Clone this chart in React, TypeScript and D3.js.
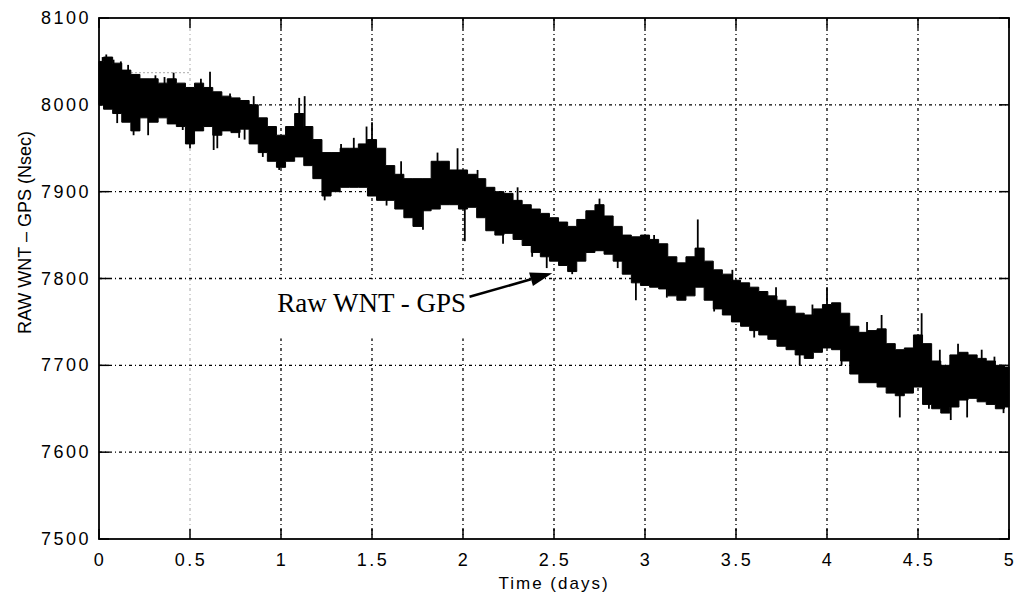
import React from 'react'
import * as d3 from 'd3'

// time in days, sampled every 0.05 day
const times = [
  0, 0.05, 0.1, 0.15, 0.2, 0.25, 0.3, 0.35, 0.4, 0.45,
  0.5, 0.55, 0.6, 0.65, 0.7, 0.75, 0.8, 0.85, 0.9, 0.95,
  1, 1.05, 1.1, 1.15, 1.2, 1.25, 1.3, 1.35, 1.4, 1.45,
  1.5, 1.55, 1.6, 1.65, 1.7, 1.75, 1.8, 1.85, 1.9, 1.95,
  2, 2.05, 2.1, 2.15, 2.2, 2.25, 2.3, 2.35, 2.4, 2.45,
  2.5, 2.55, 2.6, 2.65, 2.7, 2.75, 2.8, 2.85, 2.9, 2.95,
  3, 3.05, 3.1, 3.15, 3.2, 3.25, 3.3, 3.35, 3.4, 3.45,
  3.5, 3.55, 3.6, 3.65, 3.7, 3.75, 3.8, 3.85, 3.9, 3.95,
  4, 4.05, 4.1, 4.15, 4.2, 4.25, 4.3, 4.35, 4.4, 4.45,
  4.5, 4.55, 4.6, 4.65, 4.7, 4.75, 4.8, 4.85, 4.9, 4.95, 5,
]

// upper edge of the noisy trace (Nsec)
const highs = [
  8050, 8055, 8048, 8040, 8035, 8030, 8030, 8025, 8030, 8025,
  8020, 8025, 8020, 8015, 8010, 8008, 8005, 8000, 7985, 7975,
  7965, 7975, 7990, 7975, 7960, 7945, 7945, 7950, 7950, 7955,
  7960, 7950, 7930, 7920, 7915, 7915, 7915, 7935, 7935, 7925,
  7925, 7920, 7915, 7905, 7900, 7898, 7890, 7885, 7880, 7875,
  7870, 7865, 7860, 7868, 7878, 7885, 7872, 7860, 7850, 7848,
  7850, 7845, 7840, 7825, 7818, 7825, 7835, 7820, 7810, 7805,
  7798, 7795, 7790, 7785, 7780, 7775, 7768, 7760, 7758, 7765,
  7770, 7772, 7760, 7745, 7738, 7740, 7742, 7725, 7718, 7720,
  7735, 7725, 7705, 7700, 7712, 7715, 7712, 7708, 7705, 7700, 7698,
]

// lower edge of the noisy trace (Nsec)
const lows = [
  8000, 7995, 7990, 7980, 7970, 7985, 7980, 7985, 7978, 7975,
  7955, 7970, 7975, 7965, 7970, 7968, 7972, 7955, 7945, 7935,
  7928, 7935, 7940, 7930, 7915, 7895, 7900, 7905, 7905, 7905,
  7895, 7890, 7890, 7880, 7870, 7860, 7878, 7880, 7885, 7885,
  7880, 7882, 7870, 7855, 7850, 7852, 7845, 7838, 7830, 7825,
  7820, 7815, 7808, 7820, 7830, 7832, 7828, 7820, 7805, 7795,
  7792, 7790, 7788, 7780, 7775, 7780, 7790, 7775, 7765, 7758,
  7750, 7745, 7740, 7735, 7730, 7722, 7718, 7712, 7708, 7715,
  7720, 7718, 7705, 7690, 7680, 7680, 7675, 7668, 7665, 7668,
  7675, 7655, 7650, 7645, 7652, 7660, 7662, 7658, 7655, 7650, 7652,
]

// isolated spikes sticking out of the band
const spikeTimes = [
  0.02, 0.04, 0.08, 0.1, 0.12, 0.16, 0.19, 0.22, 0.27, 0.31, 0.36, 0.41, 0.46, 0.5,
  0.56, 0.61, 0.63, 0.65, 0.72, 0.77, 0.8, 0.85, 0.9, 0.99, 1.1, 1.13, 1.18, 1.24,
  1.33, 1.4, 1.47, 1.5, 1.58, 1.66, 1.78, 1.86, 1.97, 2.01, 2.08, 2.22, 2.3, 2.38,
  2.46, 2.6, 2.68, 2.75, 2.85, 2.95, 3.05, 3.12, 3.29, 3.38, 3.48, 3.6, 3.72, 3.85,
  3.92, 4.0, 4.08, 4.22, 4.3, 4.4, 4.52, 4.56, 4.62, 4.68, 4.72, 4.77, 4.85, 4.92, 4.97,
]
const spikeValues = [
  8055, 8058, 8052, 7979, 8050, 8046, 7965, 7970, 7965, 8034, 8032, 8037, 7971, 7950,
  8030, 8038, 7948, 7950, 8013, 7962, 7960, 8010, 7940, 7925, 8008, 8010, 7920, 7890,
  7955, 7962, 7975, 7980, 7884, 7935, 7856, 7945, 7950, 7843, 7925, 7840, 7905, 7825,
  7812, 7805, 7874, 7892, 7812, 7775, 7850, 7778, 7868, 7762, 7810, 7732, 7790, 7700,
  7770, 7790, 7700, 7750, 7758, 7640, 7760, 7650, 7718, 7637, 7725, 7640, 7718, 7710, 7645,
]

const xTicks = [0, 0.5, 1, 1.5, 2, 2.5, 3, 3.5, 4, 4.5, 5]
const yTicks = [7500, 7600, 7700, 7800, 7900, 8000, 8100]

const W = 1022
const H = 602
const left = 99
const right = 1009
const top = 18
const bottom = 539

export default function App() {
  const x = d3.scaleLinear().domain([0, 5]).range([left, right])
  const y = d3.scaleLinear().domain([7500, 8100]).range([bottom, top])

  const band = d3.area<number>()
    .x((d, i) => x(times[i]))
    .y0((d, i) => y(lows[i]))
    .y1((d, i) => y(highs[i]))
    .curve(d3.curveStep)

  const nearest = (t: number) => d3.leastIndex(times, (a, b) => Math.abs(a - t) - Math.abs(b - t)) ?? 0

  const grid = '3 3 1 3'
  const font = '"Liberation Sans", Arial, sans-serif'

  return (
    <svg width={W} height={H} style={{ position: 'absolute', left: 0, top: 0, background: '#fff' }}>
      {/* grid */}
      <g stroke="#000" strokeWidth={1.3} strokeDasharray={grid}>
        {xTicks.slice(1, -1).map(t => (
          <line key={'gx' + t} x1={x(t)} x2={x(t)} y1={top} y2={bottom}
            stroke={t === 0.5 ? '#aaa' : '#000'} strokeWidth={t === 0.5 ? 1 : 1.3} />
        ))}
        {yTicks.slice(1, -1).map(v => (
          <line key={'gy' + v} x1={left} x2={right} y1={y(v)} y2={y(v)} />
        ))}
      </g>
      <line x1={x(0)} x2={x(0.5)} y1={y(8037)} y2={y(8037)} stroke="#aaa" strokeWidth={1} strokeDasharray="2 2" />

      {/* label box hides the grid behind the annotation */}
      <rect x={x(0.884)} y={y(7799)} width={x(2.146) - x(0.884)} height={y(7731) - y(7799)} fill="#fff" />

      {/* data */}
      <path d={band(times) ?? ''} fill="#000" stroke="#000" strokeWidth={1} />
      {spikeTimes.map((t, i) => {
        const k = nearest(t)
        return (
          <line key={'s' + i} x1={x(t)} x2={x(t)} y1={y(spikeValues[i])} y2={y((highs[k] + lows[k]) / 2)}
            stroke="#000" strokeWidth={1.8} />
        )
      })}

      {/* axes box and inward ticks */}
      <rect x={left} y={top} width={right - left} height={bottom - top} fill="none" stroke="#000" strokeWidth={1.8} />
      <g stroke="#000" strokeWidth={1.5}>
        {xTicks.map(t => (
          <g key={'tx' + t}>
            <line x1={x(t)} x2={x(t)} y1={bottom} y2={bottom - 10} />
            <line x1={x(t)} x2={x(t)} y1={top} y2={top + 10} />
          </g>
        ))}
        {yTicks.map(v => (
          <g key={'ty' + v}>
            <line x1={left} x2={left + 10} y1={y(v)} y2={y(v)} />
            <line x1={right} x2={right - 10} y1={y(v)} y2={y(v)} />
          </g>
        ))}
      </g>

      {/* tick labels */}
      <g fontFamily={font} fontSize={18} fill="#000" letterSpacing={2.5}>
        {xTicks.map(t => (
          <text key={'lx' + t} x={x(t) + 1} y={bottom + 27} textAnchor="middle">{String(t)}</text>
        ))}
        {yTicks.map(v => (
          <text key={'ly' + v} x={left - 8} y={y(v) + 6} textAnchor="end">{String(v)}</text>
        ))}
      </g>

      <text x={x(2.5)} y={589} textAnchor="middle" fontFamily={font} fontSize={17} letterSpacing={2}>Time (days)</text>
      <text transform={`translate(31, ${(top + bottom) / 2 - 46}) rotate(-90)`} textAnchor="middle"
        fontFamily={font} fontSize={18}>RAW WNT – GPS (Nsec)</text>

      {/* annotation */}
      <text x={x(0.98)} y={y(7761)} fontFamily='"Liberation Serif", "Times New Roman", serif' fontSize={27}>Raw WNT - GPS</text>
      <Arrow x1={x(2.036)} y1={y(7779)} x2={x(2.49)} y2={y(7806)} />
    </svg>
  )
}

function Arrow({ x1, y1, x2, y2 }: { x1: number; y1: number; x2: number; y2: number }) {
  const ang = Math.atan2(y2 - y1, x2 - x1)
  const len = 22
  const half = 7
  const bx = x2 - len * Math.cos(ang)
  const by = y2 - len * Math.sin(ang)
  const px = -Math.sin(ang) * half
  const py = Math.cos(ang) * half
  return (
    <g>
      <line x1={x1} y1={y1} x2={bx} y2={by} stroke="#000" strokeWidth={2.5} />
      <polygon points={`${x2},${y2} ${bx + px},${by + py} ${bx - px},${by - py}`} fill="#000" />
    </g>
  )
}
